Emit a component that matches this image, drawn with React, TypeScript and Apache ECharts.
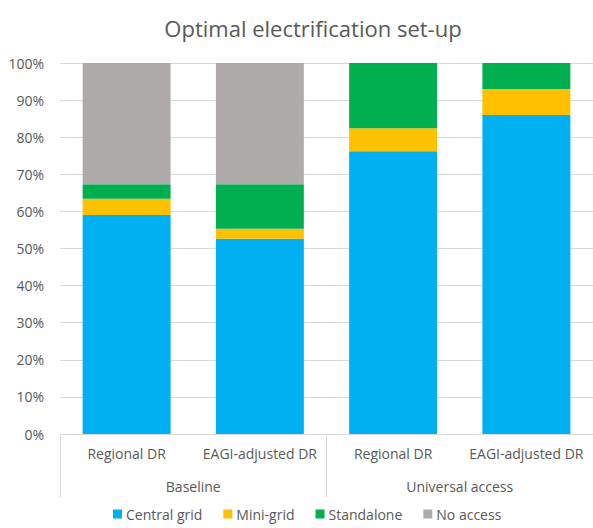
import React, { useEffect, useRef } from "react";
import * as echarts from "echarts";

const categories = ["Regional DR", "EAGI-adjusted DR", "Regional DR", "EAGI-adjusted DR"];
const groups = ["Baseline", "Universal access"];
const centralGrid = [59.0, 52.6, 76.2, 86.0];
const miniGrid = [4.4, 2.7, 6.2, 7.0];
const standalone = [3.9, 12.0, 17.6, 7.0];
const noAccess = [32.7, 32.7, 0, 0];

const FONT = "'Open Sans', Lato, sans-serif";
const TXT = "#595959";
const LINE = "#d9d9d9";

export default function App() {
  const ref = useRef<HTMLDivElement>(null);
  useEffect(() => {
    document.body.style.margin = "0";
    if (!ref.current) return;
    const chart = echarts.init(ref.current, undefined, { renderer: "svg" });
    const mk = (name: string, data: number[], color: string) => ({
      name,
      type: "bar",
      stack: "total",
      data,
      barWidth: "66%",
      itemStyle: { color },
      xAxisIndex: 0,
      yAxisIndex: 0,
    });
    chart.setOption({
      animation: false,
      textStyle: { fontFamily: FONT },
      title: {
        text: "Optimal electrification set-up",
        left: 308,
        textAlign: "center",
        top: 12,
        textStyle: { fontFamily: FONT, fontSize: 22, fontWeight: "normal", color: TXT },
      },
      legend: {
        top: 507,
        left: 113,
        itemWidth: 9,
        itemHeight: 9,
        itemGap: 21,
        icon: "rect",
        padding: 0,
        textStyle: { fontFamily: FONT, fontSize: 14, color: TXT, padding: [0, 0, 0, -1] },
        data: ["Central grid", "Mini-grid", "Standalone", "No access"],
      },
      grid: { left: 60, top: 63, width: 538, height: 371 },
      xAxis: [
        {
          type: "category",
          data: categories,
          axisLine: { show: true, lineStyle: { color: LINE } },
          axisTick: { show: false },
          axisLabel: { color: TXT, fontSize: 14, fontFamily: FONT, margin: 12, interval: 0 },
        },
        {
          type: "category",
          data: groups,
          position: "bottom",
          axisLine: { show: false },
          axisTick: { show: true, length: 63, lineStyle: { color: LINE } },
          axisLabel: { color: TXT, fontSize: 14, fontFamily: FONT, margin: 45, interval: 0 },
        },
      ],
      yAxis: {
        type: "value",
        min: 0,
        max: 100,
        interval: 10,
        axisLine: { show: false },
        axisTick: { show: false },
        axisLabel: { formatter: "{value}%", color: TXT, fontSize: 14, fontFamily: FONT, margin: 16 },
        splitLine: { lineStyle: { color: LINE } },
      },
      series: [
        mk("Central grid", centralGrid, "#00B0F0"),
        mk("Mini-grid", miniGrid, "#FFC000"),
        mk("Standalone", standalone, "#00B050"),
        mk("No access", noAccess, "#AEAAAA"),
      ],
    });
    return () => chart.dispose();
  }, []);
  return <div ref={ref} style={{ width: 593, height: 528 }} />;
}
